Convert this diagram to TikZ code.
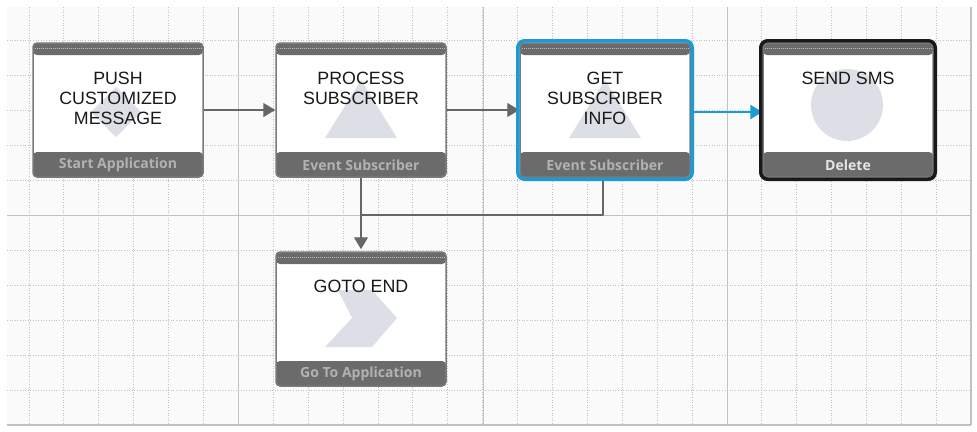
\documentclass[tikz,border=0pt]{standalone}
\usepackage{fontspec}
\setmainfont{Liberation Sans}
\newfontfamily\footfont{Open Sans}
\usetikzlibrary{arrows.meta,positioning}
\definecolor{gridline}{HTML}{C2C2C2}
\definecolor{canvas}{HTML}{FAFAFA}
\definecolor{barcol}{HTML}{6B6B6B}
\definecolor{iconcol}{HTML}{DCE0E6}
\definecolor{selblue}{HTML}{1C9AD6}
\definecolor{flowgray}{HTML}{666666}
\tikzset{
  task/.style={rectangle, draw=barcol!90, line width=1.5pt, fill=white, rounded corners=4pt,
    minimum width=170pt, minimum height=134pt, inner sep=0pt,
    path picture={
      \fill[barcol] (path picture bounding box.north west) rectangle ([yshift=-12pt]path picture bounding box.north east);
      \draw[white!55!barcol, densely dotted, line width=1pt] ([yshift=-5pt]path picture bounding box.north west) -- ([yshift=-5pt]path picture bounding box.north east);
      \fill[barcol] (path picture bounding box.south west) rectangle ([yshift=25pt]path picture bounding box.south east);
    }},
  title/.style={anchor=north, align=center, inner sep=0pt, font=\fontsize{17.8}{20}\selectfont, text=black!90},
  foot/.style={inner sep=0pt, font=\footfont\bfseries\fontsize{14}{16}\selectfont, text=black!30},
  flow/.style={draw=flowgray, line width=1.4pt, -{Triangle[length=12pt,width=14pt]}},
  dots/.style={gridline, line width=0.9pt, dash pattern=on 1pt off 1.6pt},
}
\begin{document}
\begin{tikzpicture}[x=1pt,y=-1pt,line join=round]
  \useasboundingbox (0,0) rectangle (977,431);
  % canvas grid
  \fill[canvas] (7,7) rectangle (971,425);
  \foreach \i in {0,...,26} \draw[dots] ({29+34.9*\i},7) -- ({29+34.9*\i},425);
  \foreach \j in {0,...,10} \draw[dots] (7,{40+35*\j}) -- (971,{40+35*\j});
  \foreach \x in {238,483,727} \draw[gridline, line width=0.9pt] (\x,7) -- (\x,425);
  \draw[gridline, line width=0.9pt] (7,215) -- (971,215);
  \draw[gridline, line width=1.2pt] (7,425) -- (971,425) (971,7) -- (971,425);

  % tasks
  \node[task] (push) at (118,110) {};
  \fill[iconcol] (116,87) -- (141,112) -- (116,137) -- (91,112) -- cycle;
  \node[title] (push-t) at ([yshift=-30pt]push.north) {PUSH\\CUSTOMIZED\\MESSAGE};
  \node[foot] (push-f) at ([yshift=12.5pt]push.south) {Start Application};

  \node[task] (process) at (361,110) {};
  \fill[iconcol] (325,138) -- (397,138) -- (361,80) -- cycle;
  \node[title] (process-t) at ([yshift=-30pt]process.north) {PROCESS\\SUBSCRIBER};
  \node[foot] (process-f) at ([yshift=12.5pt]process.south) {Event Subscriber};

  \node[task] (info) at (605,110) {};
  \fill[iconcol] (569,138) -- (641,138) -- (605,80) -- cycle;
  \node[title] (info-t) at ([yshift=-30pt]info.north) {GET\\SUBSCRIBER\\INFO};
  \node[foot] (info-f) at ([yshift=12.5pt]info.south) {Event Subscriber};

  \node[task] (sms) at (848,110) {};
  \fill[iconcol] (847,105) circle (36);
  \node[title] (sms-t) at ([yshift=-30pt]sms.north) {SEND SMS};
  \node[foot, text=white!90!black] (sms-f) at ([yshift=12.5pt]sms.south) {Delete};

  \node[task] (gotoend) at (361,319) {};
  \fill[iconcol] (338,290) -- (372,290) -- (397,318) -- (372,347) -- (325,347) -- (352,318) -- cycle;
  \node[title] (gotoend-t) at ([yshift=-29pt]gotoend.north) {GOTO END};
  \node[foot] (gotoend-f) at ([yshift=12.5pt]gotoend.south) {Go To Application};

  % connectors
  \coordinate (turn) at (603,215);
  \coordinate (join) at (361,215);
  \draw[flow] (push) -- (process);
  \draw[flow] (process) -- (info);
  \draw[flow, shorten >=2pt] (process) -- (gotoend);
  \draw[flowgray, line width=1.4pt] ([xshift=-2pt]info.south) -- (turn) -- (join);
  \draw[flow, draw=selblue, line width=2.6pt] ([yshift=-2pt]info.east) -- ([yshift=-2pt]sms.west);

  % selection borders
  \draw[selblue, line width=3.5pt, rounded corners=7pt] ([shift={(-1.5pt,1.5pt)}]info.north west) rectangle ([shift={(1.5pt,-1.5pt)}]info.south east);
  \draw[black!90, line width=3.5pt, rounded corners=7pt] ([shift={(-1.5pt,1.5pt)}]sms.north west) rectangle ([shift={(1.5pt,-1.5pt)}]sms.south east);
\end{tikzpicture}
\end{document}
